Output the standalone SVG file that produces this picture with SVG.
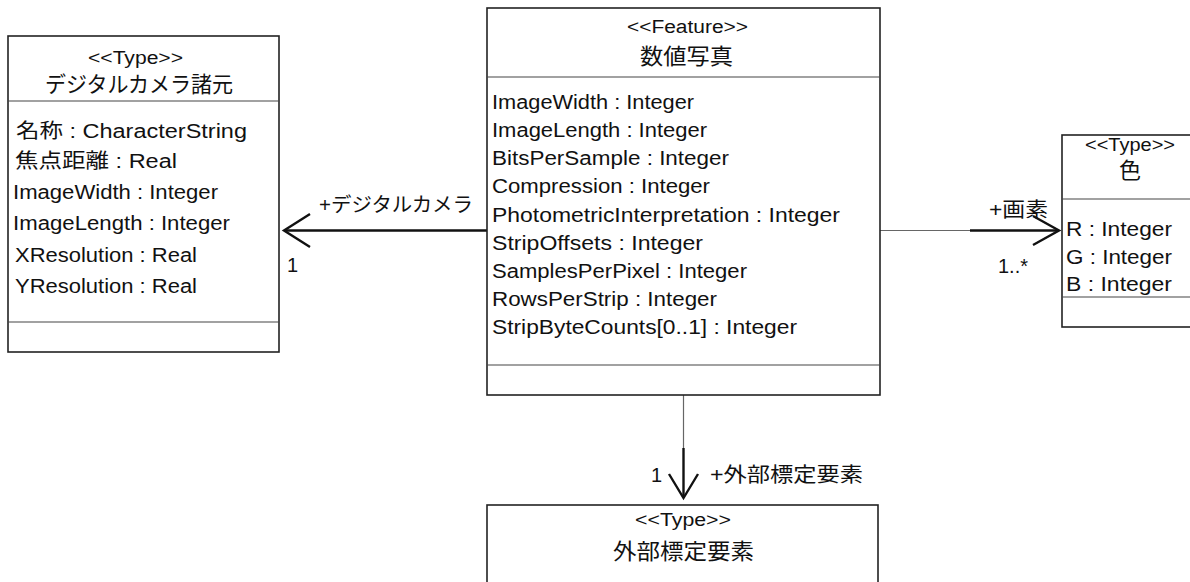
<svg xmlns="http://www.w3.org/2000/svg" width="1190" height="582" viewBox="0 0 1190 582">
<style>
.box{fill:#fff;stroke:#222;stroke-width:1.6}
.div{stroke:#444;stroke-width:1.2}
text{font-family:"Liberation Sans","Noto Sans CJK JP",sans-serif;fill:#111}
.st{font-size:18px;text-anchor:middle}
.ti{font-size:22px;text-anchor:middle}
.at{font-size:20px}
.lb{font-size:20px}
.thin{stroke:#666;stroke-width:1.2;fill:none}
.thick{stroke:#111;stroke-width:2.4;fill:none}
</style>
<rect width="1190" height="582" fill="#fff"/>
<g id="connectors">
  <line class="thick" x1="489" y1="230.5" x2="284" y2="230.5"/>
  <polyline class="thick" points="310,214 284,230.5 310,247"/>
  <text class="lb" x="319" y="212" textLength="154" lengthAdjust="spacingAndGlyphs">+デジタルカメラ</text>
  <text class="lb" x="287" y="272">1</text>
  <line class="thin" x1="880" y1="230.5" x2="970" y2="230.5"/>
  <line class="thick" x1="970" y1="230.5" x2="1059" y2="230.5"/>
  <polyline class="thick" points="1033,216 1059,230.5 1033,245"/>
  <text class="lb" x="989" y="217" textLength="59" lengthAdjust="spacingAndGlyphs">+画素</text>
  <text class="lb" x="998" y="273" textLength="30" lengthAdjust="spacingAndGlyphs">1..*</text>
  <line class="thin" x1="683.5" y1="395" x2="683.5" y2="448"/>
  <line class="thick" x1="683.5" y1="448" x2="683.5" y2="498"/>
  <polyline class="thick" points="669,474 683.5,498 698,474"/>
  <text class="lb" x="651" y="482">1</text>
  <text class="lb" x="710" y="482" textLength="153" lengthAdjust="spacingAndGlyphs">+外部標定要素</text>
</g>
<g id="node-camera">
  <rect class="box" x="8" y="36" width="271" height="316"/>
  <line class="div" x1="8" y1="101" x2="279" y2="101"/>
  <line class="div" x1="8" y1="322" x2="279" y2="322"/>
  <text class="st" x="135.5" y="64" textLength="95" lengthAdjust="spacingAndGlyphs">&lt;&lt;Type&gt;&gt;</text>
  <text class="ti" x="139" y="92" textLength="188" lengthAdjust="spacingAndGlyphs">デジタルカメラ諸元</text>
  <text class="at" x="16" y="138" textLength="231" lengthAdjust="spacingAndGlyphs">名称 : CharacterString</text>
  <text class="at" x="15" y="168" textLength="162" lengthAdjust="spacingAndGlyphs">焦点距離 : Real</text>
  <text class="at" x="13" y="199" textLength="205" lengthAdjust="spacingAndGlyphs">ImageWidth : Integer</text>
  <text class="at" x="13" y="230" textLength="217" lengthAdjust="spacingAndGlyphs">ImageLength : Integer</text>
  <text class="at" x="15" y="262" textLength="182" lengthAdjust="spacingAndGlyphs">XResolution : Real</text>
  <text class="at" x="15" y="293" textLength="182" lengthAdjust="spacingAndGlyphs">YResolution : Real</text>
</g>
<g id="node-photo">
  <rect class="box" x="487" y="8" width="393" height="387"/>
  <line class="div" x1="487" y1="77" x2="880" y2="77"/>
  <line class="div" x1="487" y1="365" x2="880" y2="365"/>
  <text class="st" x="687.5" y="33" textLength="121" lengthAdjust="spacingAndGlyphs">&lt;&lt;Feature&gt;&gt;</text>
  <text class="ti" x="686.5" y="64" textLength="93" lengthAdjust="spacingAndGlyphs">数値写真</text>
  <text class="at" x="492" y="109" textLength="202" lengthAdjust="spacingAndGlyphs">ImageWidth : Integer</text>
  <text class="at" x="492" y="137" textLength="215" lengthAdjust="spacingAndGlyphs">ImageLength : Integer</text>
  <text class="at" x="492" y="165" textLength="237" lengthAdjust="spacingAndGlyphs">BitsPerSample : Integer</text>
  <text class="at" x="492" y="193" textLength="218" lengthAdjust="spacingAndGlyphs">Compression : Integer</text>
  <text class="at" x="492" y="221.5" textLength="348" lengthAdjust="spacingAndGlyphs">PhotometricInterpretation : Integer</text>
  <text class="at" x="492" y="249.5" textLength="211" lengthAdjust="spacingAndGlyphs">StripOffsets : Integer</text>
  <text class="at" x="492" y="277.5" textLength="255" lengthAdjust="spacingAndGlyphs">SamplesPerPixel : Integer</text>
  <text class="at" x="492" y="305.5" textLength="225" lengthAdjust="spacingAndGlyphs">RowsPerStrip : Integer</text>
  <text class="at" x="492" y="334" textLength="305" lengthAdjust="spacingAndGlyphs">StripByteCounts[0..1] : Integer</text>
</g>
<g id="node-color">
  <rect class="box" x="1062" y="135" width="140" height="192"/>
  <line class="div" x1="1062" y1="199" x2="1190" y2="199"/>
  <line class="div" x1="1062" y1="297" x2="1190" y2="297"/>
  <text class="st" x="1130" y="151" textLength="90" lengthAdjust="spacingAndGlyphs">&lt;&lt;Type&gt;&gt;</text>
  <text class="ti" x="1130" y="178">色</text>
  <text class="at" x="1066" y="236" textLength="106" lengthAdjust="spacingAndGlyphs">R : Integer</text>
  <text class="at" x="1066" y="264" textLength="106" lengthAdjust="spacingAndGlyphs">G : Integer</text>
  <text class="at" x="1066" y="291" textLength="106" lengthAdjust="spacingAndGlyphs">B : Integer</text>
</g>
<g id="node-exterior">
  <rect class="box" x="487" y="505" width="391" height="100"/>
  <text class="st" x="683" y="526" textLength="96" lengthAdjust="spacingAndGlyphs">&lt;&lt;Type&gt;&gt;</text>
  <text class="ti" x="683.5" y="559" textLength="141" lengthAdjust="spacingAndGlyphs">外部標定要素</text>
</g>
</svg>
